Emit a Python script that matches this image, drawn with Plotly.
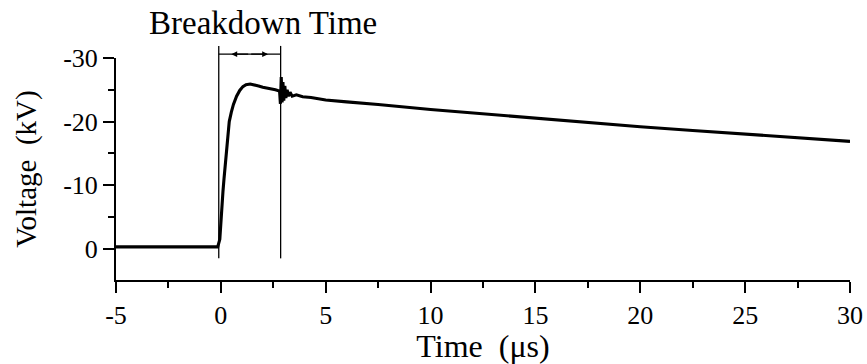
import plotly.graph_objects as go

# Time (µs) and voltage (kV)
time_us = [-5, -4, -3, -2, -1, -0.15, -0.05, 0.0, 0.05, 0.1, 0.15, 0.2, 0.3, 0.4, 0.5,
           0.6, 0.75, 0.9, 1.05, 1.2, 1.4, 1.6, 1.8, 2.0, 2.2, 2.4, 2.6, 2.8, 2.84,
           2.88, 2.92, 2.96, 3.0, 3.05, 3.1, 3.16, 3.22, 3.3, 3.4, 3.6, 3.9, 4.3, 5,
           6, 7.5, 10, 12.5, 15, 17.5, 20, 22.5, 25, 27.5, 30]
voltage_kv = [-0.3, -0.35, -0.3, -0.3, -0.35, -0.3, -1.5, -4.8, -6.5, -9.0, -11.0, -13.0,
              -17.0, -20.0, -21.5, -22.7, -24.0, -24.9, -25.5, -25.8, -25.9, -25.8, -25.6,
              -25.4, -25.3, -25.1, -25.0, -24.8, -22.8, -27.0, -23.0, -26.2, -23.3, -25.6,
              -23.7, -25.0, -24.0, -24.6, -24.0, -24.2, -23.9, -23.8, -23.4, -23.1, -22.7,
              -21.9, -21.2, -20.5, -19.8, -19.2, -18.6, -18.0, -17.4, -16.9]

x_ticks = [-5, 0, 5, 10, 15, 20, 25, 30]
y_ticks = [0, -10, -20, -30]
x_range = [-5, 30]
y_range = [4.9, -30]        # reversed: 0 at bottom, -30 at top

breakdown_start = -0.1
breakdown_end = 2.85
marker_line_bottom = 1.5    # kV, lower end of the marker lines
marker_line_top = -31.9     # kV, upper end (above plot area)
arrow_level = -30.6         # kV, level of the double arrow

FONT = "Times New Roman, Liberation Serif, Times, serif"


def to_paper(v):
    return (y_range[0] - v) / (y_range[0] - y_range[1])


fig = go.Figure()
fig.add_trace(go.Scatter(x=time_us, y=voltage_kv, mode="lines",
                         line=dict(color="black", width=3.1), showlegend=False))

for t in (breakdown_start, breakdown_end):
    fig.add_shape(type="line", xref="x", yref="paper",
                  x0=t, x1=t, y0=to_paper(marker_line_bottom), y1=to_paper(marker_line_top),
                  line=dict(color="black", width=1.3))

fig.add_shape(type="line", xref="x", yref="paper",
              x0=breakdown_start, x1=breakdown_end,
              y0=to_paper(arrow_level), y1=to_paper(arrow_level),
              line=dict(color="black", width=1.3))
mid = (breakdown_start + breakdown_end) / 2
for tip in (breakdown_start + 0.6, breakdown_end - 0.6):
    fig.add_annotation(x=tip, y=to_paper(arrow_level), xref="x", yref="paper",
                       ax=mid, ay=0, axref="x", ayref="pixel",
                       text="", showarrow=True, arrowhead=2, arrowsize=0.9,
                       arrowwidth=1.3, arrowcolor="black")

fig.add_annotation(x=mid + 0.65, y=to_paper(arrow_level) + 0.14, xref="x", yref="paper",
                   text="Breakdown Time", showarrow=False,
                   font=dict(family=FONT, size=33, color="black"),
                   xanchor="center", yanchor="middle")

axis_common = dict(showline=True, linecolor="black", linewidth=2, showgrid=False,
                   zeroline=False, ticks="outside", tickcolor="black", tickwidth=2,
                   ticklen=11, tickfont=dict(family=FONT, size=26, color="black"),
                   mirror=False, automargin=False)

fig.update_xaxes(range=x_range, tickmode="array", tickvals=x_ticks,
                 ticktext=[str(v) for v in x_ticks],
                 minor=dict(dtick=2.5, tick0=-5, ticks="outside", ticklen=6,
                            tickwidth=2, tickcolor="black"),
                 title=dict(text="Time\u00a0\u00a0(\u03bcs)", standoff=0,
                            font=dict(family=FONT, size=32, color="black")),
                 **axis_common)
fig.update_yaxes(range=y_range, tickmode="array", tickvals=y_ticks,
                 ticktext=[str(v) for v in y_ticks],
                 minor=dict(dtick=5, tick0=0, ticks="outside", ticklen=6,
                            tickwidth=2, tickcolor="black"),
                 title=dict(text="Voltage\u00a0\u00a0(kV)", standoff=18,
                            font=dict(family=FONT, size=29, color="black")),
                 **axis_common)

fig.update_layout(width=867, height=364, margin=dict(l=116, r=17, t=58, b=84),
                  plot_bgcolor="white", paper_bgcolor="white")

fig.write_html("out.html")
